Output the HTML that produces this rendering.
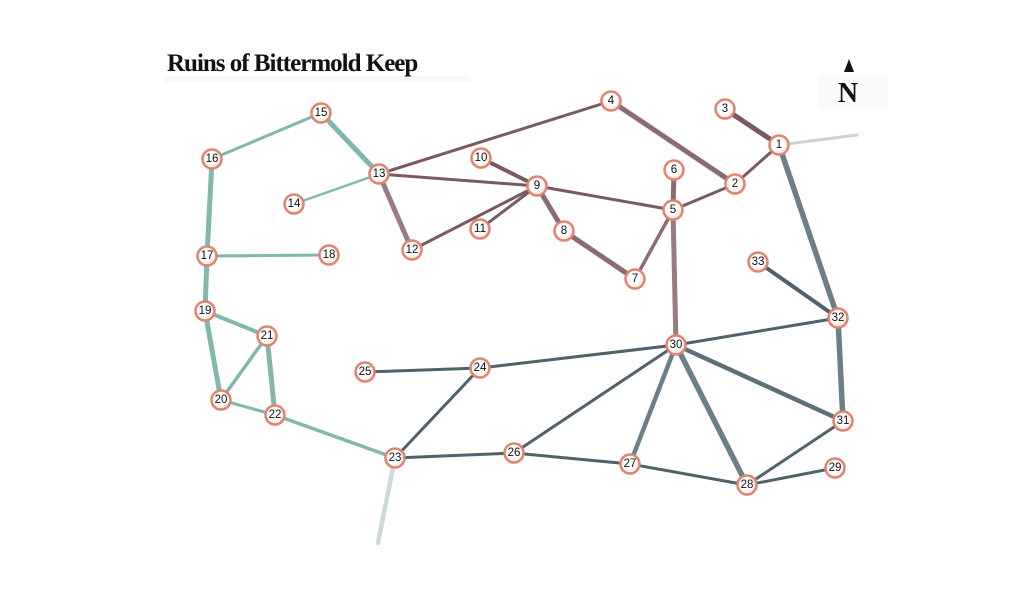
<!DOCTYPE html>
<html><head><meta charset="utf-8"><style>
html,body{margin:0;padding:0;background:#fff;width:1024px;height:615px;overflow:hidden}
svg{display:block}
text{font-family:"Liberation Serif",serif}
.n text{font-family:"Liberation Sans",sans-serif;font-size:11.5px;text-anchor:middle;dominant-baseline:central;fill:#111}
</style></head><body>
<svg width="1024" height="615" viewBox="0 0 1024 615">
<defs>
<radialGradient id="g" cx="45%" cy="40%" r="60%"><stop offset="0.6" stop-color="#fff"/><stop offset="1" stop-color="#f3e0da"/></radialGradient>
</defs>
<rect x="165" y="76" width="305" height="6" fill="#f7f7f7"/>
<text x="167" y="71" font-size="25" font-weight="bold" fill="#111" style="letter-spacing:-1px">Ruins of Bittermold Keep</text>
<rect x="818" y="75" width="70" height="35" fill="#fafafa"/>
<polygon points="849,59 844,72 854,72" fill="#111"/>
<text x="848" y="102" font-size="28" font-weight="bold" text-anchor="middle" fill="#111">N</text>
<g stroke-linecap="round" fill="none">
<line x1="779" y1="145" x2="857" y2="135" stroke="#c9d3d3" stroke-width="3"/>
<line x1="395" y1="458" x2="378" y2="543" stroke="#cfd9d7" stroke-width="4.5"/>
<g stroke="#7a5a62">
<line x1="611" y1="101" x2="379" y2="174" stroke-width="3"/>
<line x1="611" y1="101" x2="735" y2="184" stroke-width="5" stroke="#8c6c72"/>
<line x1="779" y1="145" x2="725" y2="109" stroke-width="5"/>
<line x1="779" y1="145" x2="735" y2="184" stroke-width="3"/>
<line x1="735" y1="184" x2="673" y2="210" stroke-width="3"/>
<line x1="673" y1="210" x2="674" y2="170" stroke-width="5" stroke="#8c6c72"/>
<line x1="673" y1="210" x2="537" y2="186" stroke-width="3"/>
<line x1="673" y1="210" x2="635" y2="279" stroke-width="3.5" stroke="#8c6c72"/>
<line x1="673" y1="210" x2="676" y2="345" stroke-width="5" stroke="#9a7c80"/>
<line x1="537" y1="186" x2="481" y2="158" stroke-width="4"/>
<line x1="537" y1="186" x2="480" y2="229" stroke-width="3"/>
<line x1="537" y1="186" x2="412" y2="250" stroke-width="3"/>
<line x1="537" y1="186" x2="564" y2="231" stroke-width="5" stroke="#8c6c72"/>
<line x1="564" y1="231" x2="635" y2="279" stroke-width="5" stroke="#8c6c72"/>
<line x1="379" y1="174" x2="537" y2="186" stroke-width="3"/>
<line x1="379" y1="174" x2="412" y2="250" stroke-width="5" stroke="#9a7c80"/>
</g>
<g stroke="#80b8ab">
<line x1="321" y1="113" x2="212" y2="159" stroke-width="3"/>
<line x1="321" y1="113" x2="379" y2="174" stroke-width="5"/>
<line x1="379" y1="174" x2="294" y2="204" stroke-width="2.5"/>
<line x1="212" y1="159" x2="207" y2="256" stroke-width="5"/>
<line x1="207" y1="256" x2="329" y2="255" stroke-width="3"/>
<line x1="207" y1="256" x2="205" y2="311" stroke-width="5"/>
<line x1="205" y1="311" x2="221" y2="400" stroke-width="5"/>
<line x1="205" y1="311" x2="267" y2="336" stroke-width="4"/>
<line x1="267" y1="336" x2="221" y2="400" stroke-width="3.5"/>
<line x1="267" y1="336" x2="275" y2="415" stroke-width="5"/>
<line x1="221" y1="400" x2="275" y2="415" stroke-width="3"/>
<line x1="275" y1="415" x2="395" y2="458" stroke-width="3.5"/>
</g>
<g stroke="#4f626a" stroke-width="3">
<line x1="779" y1="145" x2="838" y2="318" stroke-width="5.5" stroke="#6b7f86"/>
<line x1="758" y1="262" x2="838" y2="318" stroke-width="4"/>
<line x1="838" y1="318" x2="676" y2="345"/>
<line x1="838" y1="318" x2="843" y2="421" stroke-width="5.5" stroke="#6b7f86"/>
<line x1="676" y1="345" x2="480" y2="368"/>
<line x1="480" y1="368" x2="365" y2="372"/>
<line x1="480" y1="368" x2="395" y2="458"/>
<line x1="395" y1="458" x2="514" y2="453"/>
<line x1="514" y1="453" x2="676" y2="345"/>
<line x1="514" y1="453" x2="630" y2="464"/>
<line x1="630" y1="464" x2="676" y2="345" stroke-width="4.5" stroke="#6b7f86"/>
<line x1="676" y1="345" x2="747" y2="485" stroke-width="5.5" stroke="#6b7f86"/>
<line x1="676" y1="345" x2="843" y2="421" stroke-width="4.5" stroke="#5d7078"/>
<line x1="630" y1="464" x2="747" y2="485"/>
<line x1="747" y1="485" x2="843" y2="421"/>
<line x1="747" y1="485" x2="835" y2="468"/>
</g>
</g>
<g class="n">
<g transform="translate(779,145)"><circle r="9.5" fill="url(#g)" stroke="#e2826f" stroke-width="2.5"/><text>1</text></g>
<g transform="translate(735,184)"><circle r="9.5" fill="url(#g)" stroke="#e2826f" stroke-width="2.5"/><text>2</text></g>
<g transform="translate(725,109)"><circle r="9.5" fill="url(#g)" stroke="#e2826f" stroke-width="2.5"/><text>3</text></g>
<g transform="translate(611,101)"><circle r="9.5" fill="url(#g)" stroke="#e2826f" stroke-width="2.5"/><text>4</text></g>
<g transform="translate(673,210)"><circle r="9.5" fill="url(#g)" stroke="#e2826f" stroke-width="2.5"/><text>5</text></g>
<g transform="translate(674,170)"><circle r="9.5" fill="url(#g)" stroke="#e2826f" stroke-width="2.5"/><text>6</text></g>
<g transform="translate(635,279)"><circle r="9.5" fill="url(#g)" stroke="#e2826f" stroke-width="2.5"/><text>7</text></g>
<g transform="translate(564,231)"><circle r="9.5" fill="url(#g)" stroke="#e2826f" stroke-width="2.5"/><text>8</text></g>
<g transform="translate(537,186)"><circle r="9.5" fill="url(#g)" stroke="#e2826f" stroke-width="2.5"/><text>9</text></g>
<g transform="translate(481,158)"><circle r="9.5" fill="url(#g)" stroke="#e2826f" stroke-width="2.5"/><text>10</text></g>
<g transform="translate(480,229)"><circle r="9.5" fill="url(#g)" stroke="#e2826f" stroke-width="2.5"/><text>11</text></g>
<g transform="translate(412,250)"><circle r="9.5" fill="url(#g)" stroke="#e2826f" stroke-width="2.5"/><text>12</text></g>
<g transform="translate(379,174)"><circle r="9.5" fill="url(#g)" stroke="#e2826f" stroke-width="2.5"/><text>13</text></g>
<g transform="translate(294,204)"><circle r="9.5" fill="url(#g)" stroke="#e2826f" stroke-width="2.5"/><text>14</text></g>
<g transform="translate(321,113)"><circle r="9.5" fill="url(#g)" stroke="#e2826f" stroke-width="2.5"/><text>15</text></g>
<g transform="translate(212,159)"><circle r="9.5" fill="url(#g)" stroke="#e2826f" stroke-width="2.5"/><text>16</text></g>
<g transform="translate(207,256)"><circle r="9.5" fill="url(#g)" stroke="#e2826f" stroke-width="2.5"/><text>17</text></g>
<g transform="translate(329,255)"><circle r="9.5" fill="url(#g)" stroke="#e2826f" stroke-width="2.5"/><text>18</text></g>
<g transform="translate(205,311)"><circle r="9.5" fill="url(#g)" stroke="#e2826f" stroke-width="2.5"/><text>19</text></g>
<g transform="translate(221,400)"><circle r="9.5" fill="url(#g)" stroke="#e2826f" stroke-width="2.5"/><text>20</text></g>
<g transform="translate(267,336)"><circle r="9.5" fill="url(#g)" stroke="#e2826f" stroke-width="2.5"/><text>21</text></g>
<g transform="translate(275,415)"><circle r="9.5" fill="url(#g)" stroke="#e2826f" stroke-width="2.5"/><text>22</text></g>
<g transform="translate(395,458)"><circle r="9.5" fill="url(#g)" stroke="#e2826f" stroke-width="2.5"/><text>23</text></g>
<g transform="translate(480,368)"><circle r="9.5" fill="url(#g)" stroke="#e2826f" stroke-width="2.5"/><text>24</text></g>
<g transform="translate(365,372)"><circle r="9.5" fill="url(#g)" stroke="#e2826f" stroke-width="2.5"/><text>25</text></g>
<g transform="translate(514,453)"><circle r="9.5" fill="url(#g)" stroke="#e2826f" stroke-width="2.5"/><text>26</text></g>
<g transform="translate(630,464)"><circle r="9.5" fill="url(#g)" stroke="#e2826f" stroke-width="2.5"/><text>27</text></g>
<g transform="translate(747,485)"><circle r="9.5" fill="url(#g)" stroke="#e2826f" stroke-width="2.5"/><text>28</text></g>
<g transform="translate(835,468)"><circle r="9.5" fill="url(#g)" stroke="#e2826f" stroke-width="2.5"/><text>29</text></g>
<g transform="translate(676,345)"><circle r="9.5" fill="url(#g)" stroke="#e2826f" stroke-width="2.5"/><text>30</text></g>
<g transform="translate(843,421)"><circle r="9.5" fill="url(#g)" stroke="#e2826f" stroke-width="2.5"/><text>31</text></g>
<g transform="translate(838,318)"><circle r="9.5" fill="url(#g)" stroke="#e2826f" stroke-width="2.5"/><text>32</text></g>
<g transform="translate(758,262)"><circle r="9.5" fill="url(#g)" stroke="#e2826f" stroke-width="2.5"/><text>33</text></g>
</g>
</svg>
</body></html>
